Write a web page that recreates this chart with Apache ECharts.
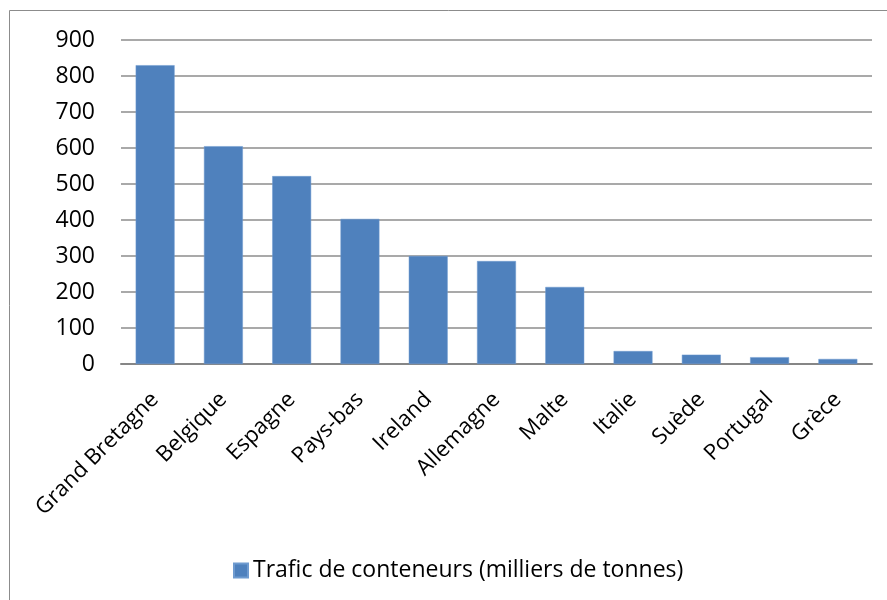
<!DOCTYPE html>
<html><head><meta charset="utf-8">
<script src="https://cdn.jsdelivr.net/npm/echarts@6/dist/echarts.min.js"></script>
<style>html,body{margin:0;padding:0;background:#fff}#c{width:887px;height:600px}</style>
</head><body><div id="c"></div>
<script>
const categories = ['Grand Bretagne','Belgique','Espagne','Pays-bas','Ireland','Allemagne','Malte','Italie','Suède','Portugal','Grèce'];
const values = [830, 605, 522, 403, 300, 286, 214, 36, 26, 19, 14];
const seriesName = 'Trafic de conteneurs (milliers de tonnes)';
const yTicks = [0, 900, 100];

const font = '"Open Sans", sans-serif';
const chart = echarts.init(document.getElementById('c'), null, {renderer: 'canvas'});
chart.setOption({
  animation: false,
  backgroundColor: '#fff',
  graphic: [{
    type: 'rect', shape: {x: 9.5, y: 10.5, width: 900, height: 620},
    style: {fill: 'none', stroke: '#8c8c8c', lineWidth: 1}, silent: true, z: -1
  }],
  grid: {left: 121, right: 15, top: 40, bottom: 236},
  legend: {
    data: [seriesName], top: 554, left: 228,
    icon: 'rect', itemWidth: 14, itemHeight: 14, itemGap: 4,
    textStyle: {fontFamily: font, fontSize: 23, color: '#000'}
  },
  xAxis: {
    type: 'category', data: categories,
    axisLine: {lineStyle: {color: '#868686', width: 2}},
    axisTick: {show: false},
    axisLabel: {rotate: 45, interval: 0, fontFamily: font, fontSize: 22, color: '#000', margin: 32}
  },
  yAxis: {
    type: 'value', min: yTicks[0], max: yTicks[1], interval: yTicks[2],
    axisLine: {show: false}, axisTick: {show: false},
    splitLine: {lineStyle: {color: '#8c8c8c', width: 1.5}},
    axisLabel: {fontFamily: font, fontSize: 23, color: '#000', margin: 26}
  },
  series: [{
    name: seriesName, type: 'bar', data: values, barWidth: '57%',
    itemStyle: {color: '#4F81BD', borderColor: '#6f9bd0', borderWidth: 0.5}
  }]
});
</script></body></html>
